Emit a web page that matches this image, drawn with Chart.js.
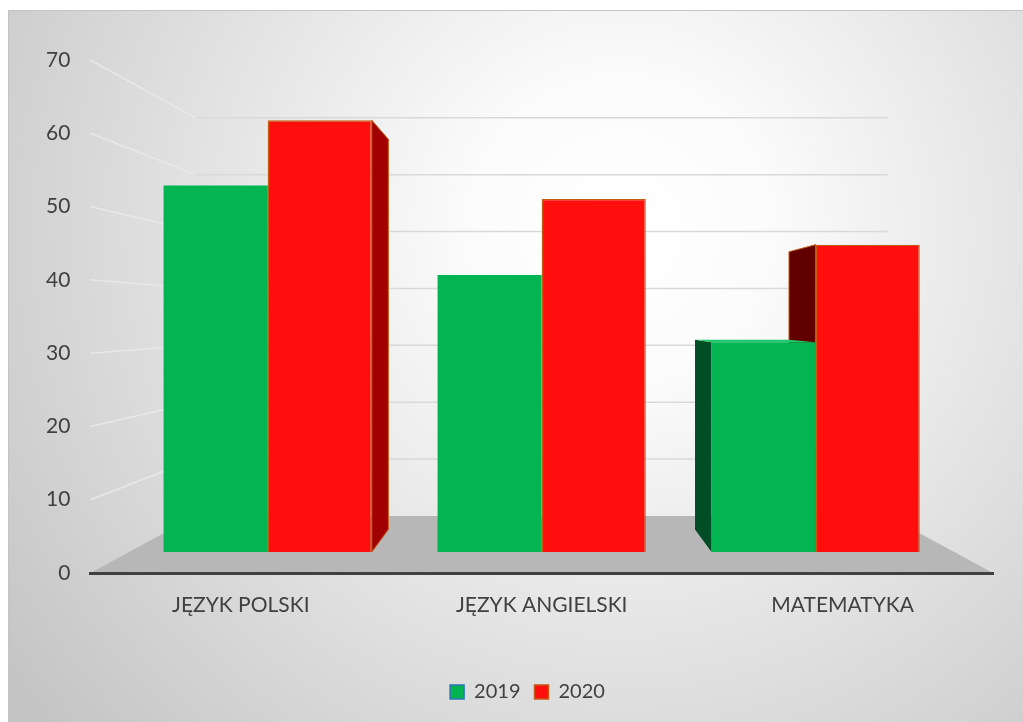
<!DOCTYPE html>
<html>
<head>
<meta charset="utf-8">
<script src="https://cdn.jsdelivr.net/npm/chart.js@4.4.1/dist/chart.umd.min.js"></script>
<style>
  html, body { margin: 0; padding: 0; background: #ffffff; }
  #wrap { width: 1023px; height: 722px; }
</style>
</head>
<body>
<div id="wrap"><canvas id="c" width="1023" height="722"></canvas></div>
<script>
// ---- data ----
const categories = ['JĘZYK POLSKI', 'JĘZYK ANGIELSKI', 'MATEMATYKA'];
const seriesLabels = ['2019', '2020'];
const values2019 = [54.5, 41.2, 31.2];
const values2020 = [64.2, 52.5, 45.7];
const yMin = 0;
const yMax = 70;
const yStep = 10;

// ---- styles ----
const frontColors = ['#03b453', '#ff0e0e'];
const borderColors = ['#2e75b6', '#c55a11'];
const barBorderWidths = [0, 1.5];
const rightFaceColors = ['#007a38', '#a00000'];
const leftFaceColors = ['#004d26', '#600000'];
const topFaceColors = ['#22c96c', '#ff5050'];

// one-point perspective view parameters (fractions of the plot area)
const view = {
  vyFrac: 0.503,
  kxFront: 0.9106, kyFront: 0.9176,
  kxBack: 0.822,  kyBack: 0.829,
  kxWall: 0.767,  kyWall: 0.776
};

function vp(chart) {
  const a = chart.chartArea;
  return { x: (a.left + a.right) / 2, y: a.top + (a.bottom - a.top) * view.vyFrac };
}
function proj(v, px, py, kx, ky) {
  return [v.x + (px - v.x) * kx, v.y + (py - v.y) * ky];
}
function poly(ctx, pts) {
  ctx.beginPath();
  ctx.moveTo(pts[0][0], pts[0][1]);
  for (let i = 1; i < pts.length; i++) ctx.lineTo(pts[i][0], pts[i][1]);
  ctx.closePath();
}

const scenePlugin = {
  id: 'scene',
  beforeDraw(chart) {
    const ctx = chart.ctx;
    const W = chart.width, H = chart.height;
    ctx.save();
    ctx.fillStyle = '#ffffff';
    ctx.fillRect(0, 0, W, H);
    const g = ctx.createRadialGradient(620, 230, 0, 620, 230, 760);
    g.addColorStop(0, '#ffffff');
    g.addColorStop(0.2, '#fbfbfb');
    g.addColorStop(1, '#c4c4c4');
    ctx.fillStyle = g;
    ctx.fillRect(8, 10, W - 8, H - 10);
    ctx.strokeStyle = '#c4c4c4';
    ctx.lineWidth = 1;
    ctx.strokeRect(8.5, 10.5, W - 8, H - 10);

    const a = chart.chartArea;
    const v = vp(chart);
    const ys = chart.scales.y;
    const bottom = ys.getPixelForValue(yMin);
    // floor
    const f1 = [a.left, bottom];
    const f2 = [a.right, bottom];
    const f3 = proj(v, a.right, bottom, view.kxWall, view.kyWall);
    const f4 = proj(v, a.left, bottom, view.kxWall, view.kyWall);
    poly(ctx, [f1, f2, f3, f4]);
    ctx.fillStyle = '#b7b7b7';
    ctx.fill();

    // wall gridlines
    ctx.lineWidth = 1.5;
    ys.ticks.forEach(t => {
      if (t.value === yMin) return;
      const py = ys.getPixelForValue(t.value);
      const bl = proj(v, a.left, py, view.kxWall, view.kyWall);
      const br = proj(v, a.right, py, view.kxWall, view.kyWall);
      ctx.strokeStyle = 'rgba(232,232,232,1)';
      ctx.beginPath();
      ctx.moveTo(a.left, py);
      ctx.lineTo(bl[0], bl[1]);
      ctx.stroke();
      ctx.strokeStyle = '#d9d9d9';
      ctx.beginPath();
      ctx.moveTo(bl[0], bl[1]);
      ctx.lineTo(br[0], br[1]);
      ctx.stroke();
    });
    ctx.restore();
  },
  afterLayout(chart) {
    // nudge the legend to its place in the reference
    const lg = chart.legend;
    if (lg) { lg.left += 18; lg.right += 18; }
  },
  beforeDatasetsDraw(chart) {
    const ctx = chart.ctx;
    const v = vp(chart);
    ctx.save();
    for (let d = chart.data.datasets.length - 1; d >= 0; d--) {
      const meta = chart.getDatasetMeta(d);
      if (meta.hidden) continue;
      meta.data.forEach(el => {
        const p = el.getProps(['x', 'y', 'base', 'width'], true);
        const L = p.x - p.width / 2, R = p.x + p.width / 2, T = p.y, B = p.base;
        const F = (px, py) => proj(v, px, py, view.kxFront, view.kyFront);
        const K = (px, py) => proj(v, px, py, view.kxBack, view.kyBack);
        const stroke = barBorderWidths[d] > 0;
        ctx.strokeStyle = borderColors[d];
        ctx.lineWidth = 1;
        ctx.lineJoin = 'round';
        if (R < v.x - 1) {
          poly(ctx, [F(R, T), K(R, T), K(R, B), F(R, B)]);
          ctx.fillStyle = rightFaceColors[d];
          ctx.fill();
          if (stroke) ctx.stroke();
        }
        if (L > v.x + 1) {
          poly(ctx, [F(L, T), K(L, T), K(L, B), F(L, B)]);
          ctx.fillStyle = leftFaceColors[d];
          ctx.fill();
          if (stroke) ctx.stroke();
        }
        if (T > v.y) {
          poly(ctx, [F(L, T), F(R, T), K(R, T), K(L, T)]);
          ctx.fillStyle = topFaceColors[d];
          ctx.fill();
          if (stroke) ctx.stroke();
        }
      });
    }
    ctx.restore();
    ctx.save();
    ctx.translate(v.x, v.y);
    ctx.scale(view.kxFront, view.kyFront);
    ctx.translate(-v.x, -v.y);
  },
  afterDatasetsDraw(chart) {
    chart.ctx.restore();
  }
};

Chart.defaults.font.family = 'Lato, "Liberation Sans", "DejaVu Sans", sans-serif';
Chart.defaults.color = '#404040';

new Chart(document.getElementById('c'), {
  type: 'bar',
  data: {
    labels: categories,
    datasets: [
      {
        label: seriesLabels[0],
        data: values2019,
        backgroundColor: frontColors[0],
        borderColor: borderColors[0],
        borderWidth: barBorderWidths[0],
        categoryPercentage: 0.76,
        barPercentage: 1.0
      },
      {
        label: seriesLabels[1],
        data: values2020,
        backgroundColor: frontColors[1],
        borderColor: borderColors[1],
        borderWidth: barBorderWidths[1],
        categoryPercentage: 0.76,
        barPercentage: 1.0
      }
    ]
  },
  options: {
    responsive: false,
    devicePixelRatio: 1,
    animation: false,
    layout: { padding: { left: 26, right: 30, top: 60, bottom: 10 } },
    plugins: {
      tooltip: { enabled: false },
      legend: {
        position: 'bottom',
        labels: {
          boxWidth: 14,
          boxHeight: 14,
          padding: 14,
          color: '#404040',
          font: { size: 20 },
          generateLabels(chart) {
            const items = Chart.defaults.plugins.legend.labels.generateLabels(chart);
            items.forEach((it, i) => {
              it.fillStyle = frontColors[i];
              it.strokeStyle = borderColors[i];
              it.lineWidth = 1.5;
            });
            return items;
          }
        }
      }
    },
    scales: {
      x: {
        grid: { display: false, drawTicks: false },
        border: { display: true, color: '#404040', width: 3 },
        ticks: { padding: 20, font: { size: 21 }, color: '#404040' },
        afterFit(scale) { scale.height = 95; }
      },
      y: {
        min: yMin,
        max: yMax,
        grid: { display: false, drawTicks: false },
        border: { display: false },
        ticks: { stepSize: yStep, padding: 20, font: { size: 21 }, color: '#404040' }
      }
    }
  },
  plugins: [scenePlugin]
});
</script>
</body>
</html>
